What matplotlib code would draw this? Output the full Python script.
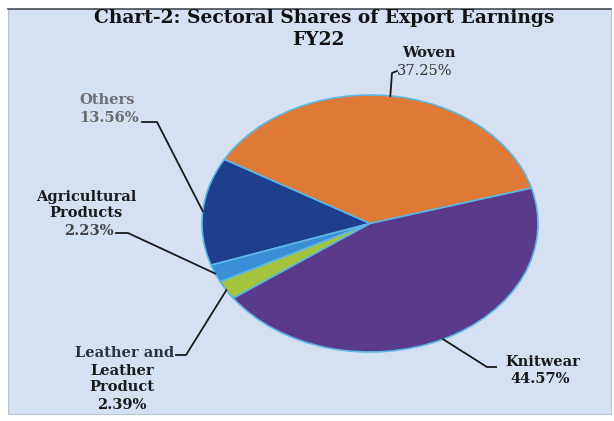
import numpy as np
import matplotlib
matplotlib.use("Agg")
import matplotlib.pyplot as plt
from matplotlib.patches import Rectangle
from matplotlib.lines import Line2D

# Sectoral shares of export earnings, FY22 (percent)
sectors = ["Woven", "Others", "Agricultural\nProducts", "Leather and\nLeather\nProduct", "Knitwear"]
shares = [37.25, 13.56, 2.23, 2.39, 44.57]
colors = ["#DF7A36", "#1E3F8E", "#3A8ED6", "#A3C43C", "#5A3A8A"]
title_line1 = "Chart-2: Sectoral Shares of Export Earnings"
title_line2 = "FY22"

W, H = 614, 421
fig = plt.figure(figsize=(W / 100, H / 100), dpi=100)
fig.patch.set_facecolor("white")


def fpx(x, y):
    """Pixel position (from top-left) to figure fraction."""
    return x / W, 1 - y / H


# chart area panel
x0, y0 = fpx(8, 414)
x1, y1 = fpx(611, 9)
fig.patches.append(Rectangle((x0, y0), x1 - x0, y1 - y0, transform=fig.transFigure,
                             facecolor="#D5E1F2", edgecolor="#B8C4D2", lw=0.8, zorder=-5))
fig.lines.append(Line2D([x0, x1], [y1, y1], transform=fig.transFigure, color="#4a4f55",
                        lw=1.2, zorder=-4))

ttl = dict(family="DejaVu Serif", fontweight="bold", fontsize=13.4, color="#111111")
fig.text(*fpx(324, 18), title_line1, ha="center", va="center", **ttl)
fig.text(*fpx(318, 40), title_line2, ha="center", va="center", **ttl)

# pie drawn as an ellipse
ax = fig.add_axes([202 / W, 1 - 352 / H, 336 / W, 257 / H])
ax.set_zorder(1)
wedges, _ = ax.pie(shares, colors=colors, startangle=16, counterclock=True,
                   wedgeprops=dict(edgecolor="#5DB6E4", linewidth=1.2))
ax.set_aspect("auto")
ax.set_xlim(-1, 1)
ax.set_ylim(-1, 1)
ax.axis("off")

fig.canvas.draw()
to_fig = fig.transFigure.inverted()


def wedge_point(w):
    a = np.deg2rad((w.theta1 + w.theta2) / 2)
    return to_fig.transform(ax.transData.transform((np.cos(a), np.sin(a))))


def leader(points):
    xs, ys = zip(*points)
    fig.lines.append(Line2D(xs, ys, transform=fig.transFigure, color="#1a1a1a", lw=1.3, zorder=3))


lab = dict(family="DejaVu Serif", fontweight="bold", fontsize=10.5, linespacing=1.15)
pct = [f"{v:.2f}%" for v in shares]

# Woven
fig.text(*fpx(429, 53), sectors[0], ha="center", va="center", color="#1a1a1a", **lab)
fig.text(*fpx(397, 71), pct[0], ha="left", va="center", color="#333333",
         family="DejaVu Serif", fontsize=10.5)
leader([fpx(397, 71), fpx(392, 73), wedge_point(wedges[0])])

# Others
fig.text(*fpx(107, 100), sectors[1], ha="center", va="center", color="#6f6f6f", **lab)
fig.text(*fpx(139, 118), pct[1], ha="right", va="center", color="#6a6a6a", **lab)
leader([fpx(142, 122), fpx(157, 122), wedge_point(wedges[1])])

# Agricultural products
fig.text(*fpx(86, 205), sectors[2], ha="center", va="center", color="#1a1a1a", **lab)
fig.text(*fpx(114, 231), pct[2], ha="right", va="center", color="#444444", **lab)
leader([fpx(116, 233), fpx(128, 233), wedge_point(wedges[2])])

# Leather and leather products
fig.text(*fpx(174, 353), "Leather and", ha="right", va="center", color="#2a3140", **lab)
fig.text(*fpx(122, 379), "Leather\nProduct", ha="center", va="center", color="#1a1a1a", **lab)
fig.text(*fpx(122, 405), pct[3], ha="center", va="center", color="#1a1a1a", **lab)
leader([fpx(176, 355), fpx(186, 355), wedge_point(wedges[3])])

# Knitwear
fig.text(*fpx(543, 362), sectors[4], ha="center", va="center", color="#1a1a1a", **lab)
fig.text(*fpx(540, 379), pct[4], ha="center", va="center", color="#1a1a1a", **lab)
leader([fpx(496, 367), fpx(487, 367), wedge_point(wedges[4])])

fig.savefig("out.png", dpi=100, facecolor=fig.get_facecolor())
